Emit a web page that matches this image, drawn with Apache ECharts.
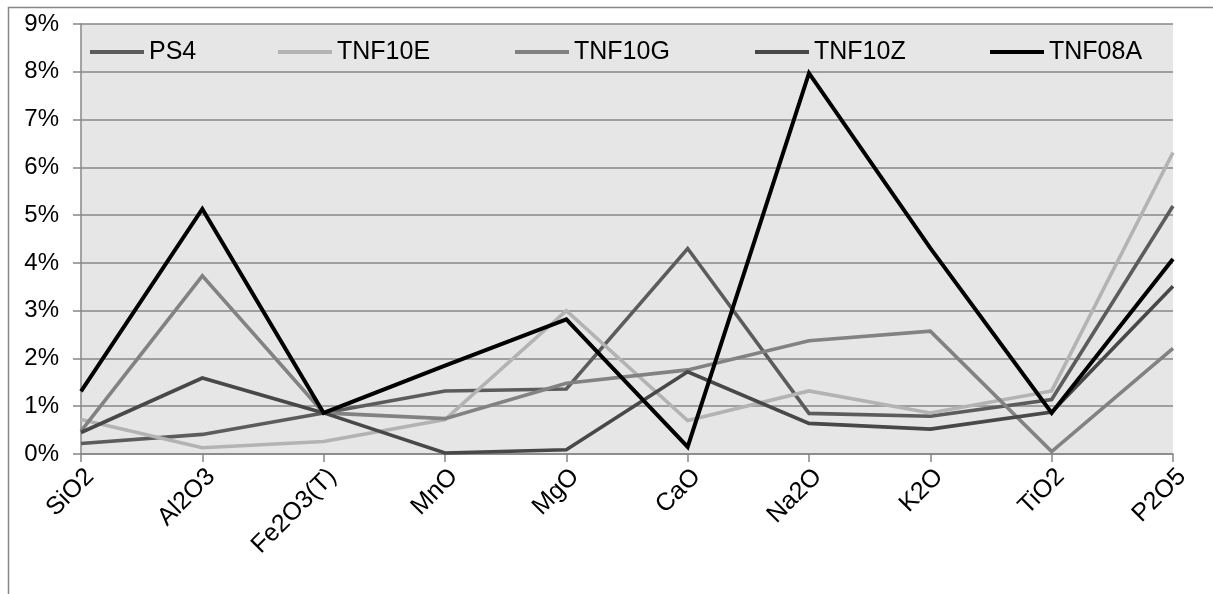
<!DOCTYPE html>
<html>
<head>
<meta charset="utf-8">
<script src="https://cdn.jsdelivr.net/npm/echarts@6/dist/echarts.min.js"></script>
<style>
html,body{margin:0;padding:0;background:#fff;}
#c{width:1213px;height:594px;}
</style>
</head>
<body>
<div id="c"></div>
<script>
const categories = ['SiO2','Al2O3','Fe2O3(T)','MnO','MgO','CaO','Na2O','K2O','TiO2','P2O5'];
const seriesNames = ['PS4','TNF10E','TNF10G','TNF10Z','TNF08A'];
const PS4    = [0.22, 0.41, 0.86, 1.32, 1.36, 4.30, 0.85, 0.79, 1.14, 5.19];
const TNF10E = [0.72, 0.13, 0.26, 0.72, 3.00, 0.70, 1.32, 0.86, 1.32, 6.31];
const TNF10G = [0.48, 3.73, 0.86, 0.74, 1.48, 1.76, 2.37, 2.57, 0.05, 2.21];
const TNF10Z = [0.45, 1.59, 0.86, 0.02, 0.09, 1.72, 0.64, 0.52, 0.88, 3.51];
const TNF08A = [1.31, 5.13, 0.86, 1.85, 2.82, 0.15, 7.97, 4.31, 0.86, 4.08];
const yTicks = [0,1,2,3,4,5,6,7,8,9];

const values = [PS4, TNF10E, TNF10G, TNF10Z, TNF08A];
const colors = ['#5c5c5c', '#b3b3b3', '#828282', '#484848', '#000000'];
const widths = [3.6, 3.6, 3.6, 3.6, 4];
const legendLeft = [90, 278, 515, 755, 990];

const font = 'Liberation Sans, Arial, sans-serif';
const chart = echarts.init(document.getElementById('c'));
chart.setOption({
  animation: false,
  backgroundColor: '#ffffff',
  graphic: [{
    type: 'rect', silent: true, z: -10,
    shape: {x: 8.5, y: 7.5, width: 1300, height: 700},
    style: {fill: null, stroke: '#868686', lineWidth: 1.5}
  }],
  legend: seriesNames.map((n, i) => ({
    data: [{name: n, icon: 'rect', itemStyle: {color: colors[i]}}],
    left: legendLeft[i],
    top: 37,
    padding: 0,
    itemWidth: 54,
    itemHeight: 4,
    itemGap: 5,
    textStyle: {fontFamily: font, fontSize: 25, color: '#000', lineHeight: 30},
    selectedMode: false
  })),
  grid: {left: 81, top: 24, right: 40, bottom: 140, show: true, backgroundColor: '#e6e6e6', borderWidth: 0, containLabel: false},
  xAxis: {
    type: 'category',
    data: categories,
    boundaryGap: false,
    axisLine: {show: true, lineStyle: {color: '#878787', width: 1.5}},
    axisTick: {show: true, alignWithLabel: true, length: 8, lineStyle: {color: '#878787', width: 1.5}},
    axisLabel: {rotate: 45, margin: 10, verticalAlign: 'top', fontFamily: font, fontSize: 25, color: '#000', interval: 0},
    splitLine: {show: false}
  },
  yAxis: {
    type: 'value',
    min: 0, max: 9, interval: 1,
    axisLine: {show: true, lineStyle: {color: '#878787', width: 1.5}},
    axisTick: {show: true, length: 8, lineStyle: {color: '#878787', width: 1.5}},
    axisLabel: {margin: 22, fontFamily: font, fontSize: 24, color: '#000',
      formatter: v => yTicks.includes(v) ? v + '%' : ''},
    splitLine: {show: true, lineStyle: {color: '#878787', width: 1.5}}
  },
  series: seriesNames.map((n, i) => ({
    name: n,
    type: 'line',
    data: values[i],
    symbol: 'none',
    showSymbol: false,
    color: colors[i],
    lineStyle: {color: colors[i], width: widths[i], join: 'miter'},
    z: 2 + i
  }))
});
</script>
</body>
</html>
